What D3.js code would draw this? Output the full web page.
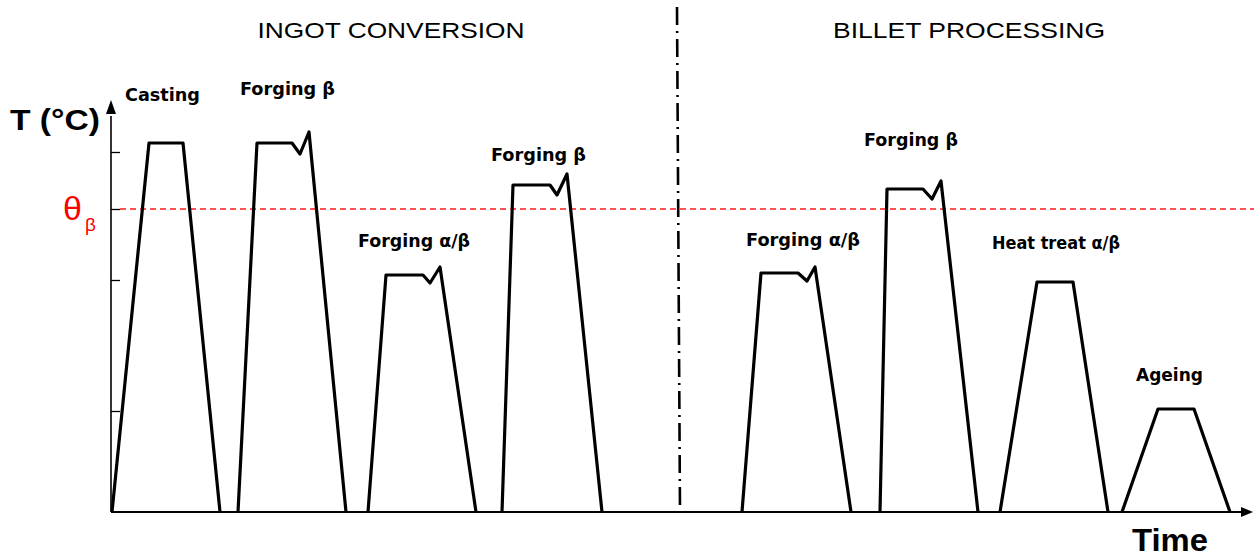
<!DOCTYPE html>
<html>
<head>
<meta charset="utf-8">
<script src="https://cdn.jsdelivr.net/npm/d3@7"></script>
<style>
  html, body { margin: 0; padding: 0; background: #fff; }
  svg { display: block; }
</style>
</head>
<body>
<div id="chart"></div>
<script>
// ---------------- DATA ----------------
const phaseTitles = ["INGOT CONVERSION", "BILLET PROCESSING"];
const stageLabels = ["Casting", "Forging β", "Forging α/β", "Forging β",
                     "Forging α/β", "Forging β", "Heat treat α/β", "Ageing"];
// time (arbitrary units) of each vertex of each thermal cycle
const profileTimes = [
  [1, 38, 72, 109],
  [127, 146, 181, 189, 198, 235],
  [257, 275, 312, 319, 329, 365],
  [391, 402, 439, 446, 456, 491],
  [631, 650, 687, 696, 704, 740],
  [769, 776, 812, 821, 830, 867],
  [889, 926, 962, 997],
  [1011, 1047, 1083, 1119]
];
// temperature (arbitrary units) of each vertex
const profileTemps = [
  [0, 369, 369, 0],
  [0, 369, 369, 358, 380, 0],
  [0, 237, 237, 229, 245, 0],
  [0, 327, 327, 317, 338, 0],
  [0, 239, 239, 231, 245, 0],
  [0, 323, 323, 313, 331, 0],
  [0, 230, 230, 0],
  [0, 103, 103, 0]
];
const yTickValues = [101, 232, 303, 360];
const thetaBeta = 303;          // beta transus
const phaseBoundary = [566, 569]; // time of the ingot / billet split (top, bottom)

// ---------------- LAYOUT ----------------
const W = 1254, H = 558;
const x = d3.scaleLinear().domain([0, 1143]).range([111, 1254]);
const y = d3.scaleLinear().domain([0, 412]).range([512, 100]);

// label anchors (time, temperature) and widths
const labelLayout = [
  {t: 14,  T: 411, w: 75},
  {t: 129, T: 417, w: 95},
  {t: 247, T: 265, w: 112},
  {t: 380, T: 351, w: 95},
  {t: 635, T: 266, w: 114},
  {t: 753, T: 366, w: 94},
  {t: 881, T: 263, w: 128},
  {t: 1025, T: 131, w: 67}
];

const svg = d3.select("#chart").append("svg")
  .attr("width", W).attr("height", H);

// phase titles
const titleLayout = [{cx: 391, w: 267}, {cx: 969, w: 272}];
svg.selectAll("text.phase").data(phaseTitles).join("text")
  .attr("class", "phase")
  .attr("x", (d, i) => titleLayout[i].cx)
  .attr("y", 38)
  .attr("text-anchor", "middle")
  .attr("textLength", (d, i) => titleLayout[i].w)
  .attr("lengthAdjust", "spacingAndGlyphs")
  .style("font-family", "'Liberation Sans', Arial, sans-serif")
  .style("font-size", "22px")
  .attr("fill", "#000")
  .text(d => d);

// beta transus line
svg.append("line")
  .attr("x1", x(9)).attr("x2", x(1143))
  .attr("y1", y(thetaBeta)).attr("y2", y(thetaBeta))
  .attr("stroke", "#ff1a1a").attr("stroke-width", 1.6)
  .attr("stroke-dasharray", "6,4");

// phase boundary dash-dot
svg.append("line")
  .attr("x1", x(phaseBoundary[0])).attr("x2", x(phaseBoundary[1]))
  .attr("y1", y(505)).attr("y2", y(0))
  .attr("stroke", "#000").attr("stroke-width", 2.6)
  .attr("stroke-dasharray", "18,6,2,6");

// axes
const yAxis = d3.axisRight(y).tickValues(yTickValues).tickSize(9)
  .tickSizeOuter(0).tickFormat("");
const gy = svg.append("g").attr("transform", `translate(${x(0)},0)`).call(yAxis);
gy.select(".domain").attr("stroke", "#000").attr("stroke-width", 1.6)
  .attr("d", `M0,${y(0)}V${y(396)}`);
gy.selectAll(".tick line").attr("stroke", "#000").attr("stroke-width", 1.3);

const xAxis = d3.axisBottom(x).tickValues([]).tickSizeOuter(0);
const gx = svg.append("g").attr("transform", `translate(0,${y(0)})`).call(xAxis);
gx.select(".domain").attr("stroke", "#000").attr("stroke-width", 1.8)
  .attr("d", `M${x(0)},0H${x(1132)}`);

// arrowheads
svg.append("path")
  .attr("d", `M${x(0)},${y(412)}L${x(0) - 5},${y(398)}L${x(0) + 5},${y(398)}Z`)
  .attr("fill", "#000");
svg.append("path")
  .attr("d", `M${x(1142)},${y(0)}L${x(1130)},${y(0) - 5}L${x(1130)},${y(0) + 5}Z`)
  .attr("fill", "#000");

// thermal cycles
const line = d3.line().x(d => x(d[0])).y(d => y(d[1]));
const profiles = profileTimes.map((ts, i) => ts.map((t, j) => [t, profileTemps[i][j]]));
svg.selectAll("path.cycle").data(profiles).join("path")
  .attr("class", "cycle")
  .attr("d", line)
  .attr("fill", "none")
  .attr("stroke", "#000")
  .attr("stroke-width", 3.2)
  .attr("stroke-linejoin", "round");

// stage labels
svg.selectAll("text.stage").data(stageLabels).join("text")
  .attr("class", "stage")
  .attr("x", (d, i) => x(labelLayout[i].t))
  .attr("y", (d, i) => y(labelLayout[i].T))
  .attr("textLength", (d, i) => labelLayout[i].w)
  .attr("lengthAdjust", "spacingAndGlyphs")
  .style("font-family", "'DejaVu Sans', Verdana, sans-serif")
  .style("font-weight", "bold")
  .style("font-size", "17px")
  .attr("fill", "#000")
  .text(d => d);

// axis titles
svg.append("text")
  .attr("x", 10).attr("y", 130)
  .attr("textLength", 90).attr("lengthAdjust", "spacingAndGlyphs")
  .style("font-family", "'Liberation Sans', Arial, sans-serif")
  .style("font-weight", "bold").style("font-size", "29px")
  .text("T (°C)");

svg.append("text")
  .attr("x", 1132).attr("y", 551)
  .attr("textLength", 76).attr("lengthAdjust", "spacingAndGlyphs")
  .style("font-family", "'Liberation Sans', Arial, sans-serif")
  .style("font-weight", "bold").style("font-size", "31px")
  .text("Time");

// theta beta label
const th = svg.append("text")
  .attr("x", 63).attr("y", 220)
  .attr("fill", "#ff0000")
  .style("font-family", "'Liberation Sans', Arial, sans-serif");
th.append("tspan").style("font-size", "34px").text("θ");
th.append("tspan").attr("dx", 3).attr("dy", 11).style("font-size", "19px").text("β");
</script>
</body>
</html>
